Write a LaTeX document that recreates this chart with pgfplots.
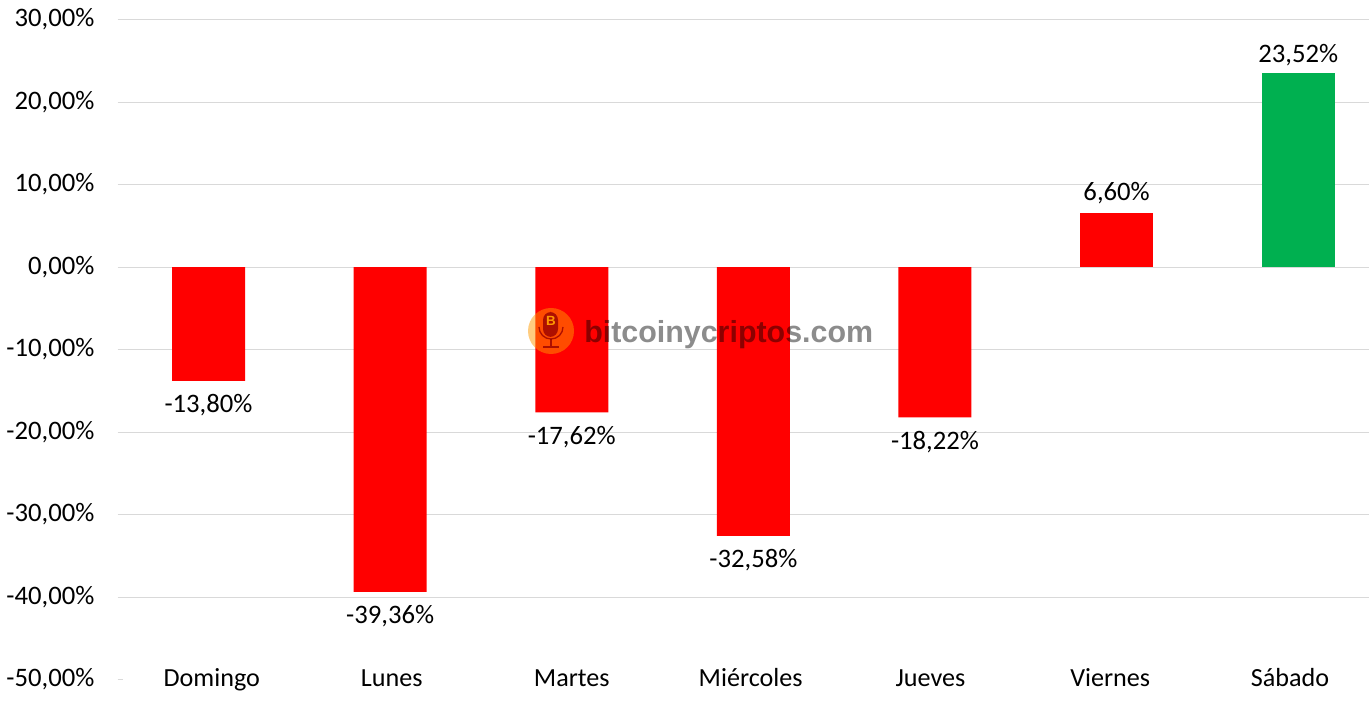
\documentclass[border=0pt]{standalone}
\usepackage{fontspec}
\setmainfont{Carlito}
\newfontfamily\wmfont{Liberation Sans}
\usepackage{pgfplots}
\pgfplotsset{compat=1.18}
\definecolor{barred}{HTML}{FF0000}
\definecolor{bargreen}{HTML}{00B050}
\definecolor{gridgray}{HTML}{D9D9D9}
\pgfkeys{/pgf/number format/.cd, fixed, fixed zerofill, precision=2, use comma, assume math mode=true}
\begin{document}
\begin{tikzpicture}[x=0.75pt,y=0.75pt]
\useasboundingbox (0,0) rectangle (1369,703);
\begin{axis}[
    at={(88.28pt,17.6pt)}, anchor=south west,
    scale only axis,
    width=938.5pt, height=495pt,
    xmin=-0.5, xmax=6.39,
    ymin=-50, ymax=30,
    ybar, bar shift=0pt, bar width=54.75pt,
    axis x line*=bottom, axis y line*=left,
    axis line style={draw=none},
    % the day names sit a little closer together than the bars
    xtick={0.018,1.009,2.0,2.985,3.975,4.965,5.955},
    xticklabels={Domingo,Lunes,Martes,Miércoles,Jueves,Viernes,Sábado},
    xtick style={draw=none},
    ytick={-50,-40,-30,-20,-10,0,10,20,30},
    ytick style={draw=none},
    scaled y ticks=false,
    yticklabel={\pgfmathprintnumber{\tick}\%},
    tick label style={font=\fontsize{20}{24}\selectfont, text=black},
    xticklabel style={yshift=-1pt, anchor=base, text height=0pt, font=\fontsize{19.6}{24}\selectfont},
    yticklabel style={anchor=east, xshift=-14pt},
    extra y ticks={-40,-30,-20,-10,0,10,20,30},
    extra y tick labels={},
    extra y tick style={ymajorgrids=true, grid style={gridgray, line width=0.75pt}},
    nodes near coords={\pgfmathprintnumber{\pgfplotspointmeta}\%},
    every node near coord/.append style={font=\fontsize{20}{24}\selectfont, text=black},
    clip=false,
]
\addplot[fill=barred, draw=none, every node near coord/.append style={inner ysep=10.2pt}] coordinates {
    (0,-13.80) (1,-39.36) (2,-17.62) (3,-32.58) (4,-18.22)
};
\addplot[fill=barred, draw=none, every node near coord/.append style={inner ysep=6.5pt}] coordinates {
    (5,6.60)
};
\addplot[fill=bargreen, draw=none, every node near coord/.append style={inner ysep=5.2pt}] coordinates {
    (6,23.52)
};
\draw[gridgray, line width=0.75pt] (axis cs:-0.5,-50) -- ++(3.75pt,0pt);
\end{axis}
% watermark
\fill[orange!80!yellow, opacity=0.5] (551,372) circle (23);
\begin{scope}[draw=red!60!black, fill=red!60!black, opacity=0.8]
  \fill[rounded corners=6] (543,366) rectangle (558,391);
  \draw[line width=1pt] (539,376) arc (180:360:12);
  \draw[line width=1.2pt] (551,364) -- (551,356) (543,356) -- (559,356);
\end{scope}
\node[inner sep=0pt, text=orange!80!yellow] at (551,382)
  {\wmfont\bfseries\fontsize{10}{12}\selectfont B};
\node[anchor=base west, inner sep=0pt, text=black, opacity=0.45]
  at (584,360) {\wmfont\bfseries\fontsize{22.8}{26}\selectfont bitcoinycriptos.com};
\end{tikzpicture}
\end{document}
